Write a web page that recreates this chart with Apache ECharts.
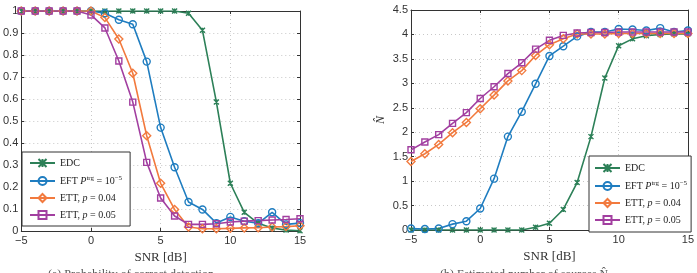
<!DOCTYPE html>
<html>
<head>
<meta charset="utf-8">
<script src="https://cdn.jsdelivr.net/npm/echarts@6/dist/echarts.min.js"></script>
<style>
html, body { margin: 0; padding: 0; background: #fff; }
#chart { width: 697px; height: 273px; }
</style>
</head>
<body>
<div id="chart"></div>
<script>
// SNR 轴
var snr = [-5, -4, -3, -2, -1, 0, 1, 2, 3, 4, 5, 6, 7, 8, 9, 10, 11, 12, 13, 14, 15];

// (a) 检测概率
var pdEDC = [1, 1, 1, 1, 1, 1, 1, 1, 1, 1, 1, 1, 0.99, 0.912, 0.586, 0.217, 0.085, 0.035, 0.014, 0.004, 0.001];
var pdEFT = [1, 1, 1, 1, 1, 1, 0.99, 0.96, 0.94, 0.77, 0.47, 0.29, 0.132, 0.098, 0.036, 0.064, 0.044, 0.035, 0.085, 0.03, 0.036];
var pdETT04 = [1, 1, 1, 1, 1, 1, 0.97, 0.873, 0.717, 0.433, 0.217, 0.098, 0.018, 0.01, 0.01, 0.012, 0.014, 0.015, 0.018, 0.02, 0.024];
var pdETT05 = [1, 1, 1, 1, 1, 0.982, 0.923, 0.773, 0.586, 0.312, 0.15, 0.068, 0.03, 0.03, 0.033, 0.041, 0.045, 0.047, 0.05, 0.052, 0.056];

// (b) 估计的源数
var nEDC = [0, 0, 0, 0, 0, 0, 0, 0, 0, 0.055, 0.137, 0.42, 0.97, 1.91, 3.11, 3.77, 3.91, 3.975, 4.0, 4.01, 4.01];
var nEFT = [0.03, 0.02, 0.03, 0.12, 0.18, 0.44, 1.05, 1.91, 2.42, 2.99, 3.56, 3.76, 3.96, 4.05, 4.05, 4.11, 4.1, 4.08, 4.13, 4.05, 4.08];
var nETT04 = [1.40, 1.56, 1.75, 1.99, 2.2, 2.48, 2.76, 3.05, 3.26, 3.57, 3.79, 3.91, 4.01, 4.01, 4.01, 4.02, 4.02, 4.02, 4.02, 4.02, 4.02];
var nETT05 = [1.64, 1.80, 1.95, 2.18, 2.40, 2.69, 2.93, 3.20, 3.42, 3.70, 3.88, 3.98, 4.03, 4.04, 4.04, 4.05, 4.05, 4.05, 4.05, 4.05, 4.05];

var names = ['EDC', 'EFT', 'ETT04', 'ETT05'];
var colors = ['#2d8058', '#1f7dc0', '#f27a3e', '#a23fa0'];
var symbols = ['path://M0,0L10,10M10,0L0,10M5,0L5,10', 'circle', 'diamond', 'rect'];
var symbolSizes = [5, 7, 8, 6];

var serif = '"Liberation Serif", "DejaVu Serif", serif';
var sans = '"Liberation Sans", Arial, sans-serif';

function pairs(ys) {
    var out = [];
    for (var i = 0; i < snr.length; i++) {
        out.push([snr[i], ys[i]]);
    }
    return out;
}

function makeSeries(idx, ys, axis) {
    return {
        name: names[idx],
        type: 'line',
        xAxisIndex: axis,
        yAxisIndex: axis,
        data: pairs(ys),
        symbol: symbols[idx],
        symbolSize: symbolSizes[idx],
        showAllSymbol: true,
        animation: false,
        lineStyle: { color: colors[idx], width: 1.6 },
        itemStyle: { color: 'rgba(255,255,255,0)', borderColor: colors[idx], borderWidth: 1.4 },
        emphasis: { disabled: true }
    };
}

function legendText(name) {
    if (name == 'EDC') return '{t|EDC}';
    if (name == 'EFT') return '{t|EFT }{i|P}{sup|trg}{t| = 10}{sup|−5}';
    if (name == 'ETT04') return '{t|ETT, }{i|p}{t| = 0.04}';
    return '{t|ETT, }{i|p}{t| = 0.05}';
}

var legendRich = {
    t: { fontFamily: serif, fontSize: 10, color: '#222' },
    i: { fontFamily: serif, fontSize: 10, fontStyle: 'italic', color: '#222' },
    sup: { fontFamily: serif, fontSize: 7, color: '#222', verticalAlign: 'top', padding: [0, 0, 5, 0] }
};

function makeLegend(left, top, pad) {
    return {
        orient: 'vertical',
        left: left,
        top: top,
        data: names,
        itemWidth: 25,
        itemHeight: 10,
        itemGap: 7,
        padding: pad,
        backgroundColor: '#fff',
        borderColor: '#333',
        borderWidth: 1,
        borderRadius: 0,
        selectedMode: false,
        formatter: legendText,
        textStyle: { rich: legendRich }
    };
}

var axisLineStyle = { show: true, onZero: false, lineStyle: { color: '#333' } };
var tickStyle = { inside: true, length: 3, lineStyle: { color: '#333' } };
var gridLine = { show: true, lineStyle: { color: '#c8c8c8', type: [1, 3] } };

function xAx(grid) {
    return {
        type: 'value', gridIndex: grid, min: -5, max: 15, interval: 5,
        name: 'SNR [dB]', nameLocation: 'middle', nameGap: 19,
        nameTextStyle: { fontFamily: serif, fontSize: 13, color: '#333' },
        axisLine: axisLineStyle,
        axisTick: tickStyle,
        axisLabel: { fontFamily: sans, fontSize: 11, color: '#333', margin: 4,
            formatter: function (v) { return String(v).replace('-', '−'); } },
        splitLine: gridLine
    };
}

function xTop(grid) {
    return {
        type: 'value', gridIndex: grid, position: 'top', min: -5, max: 15, interval: 5,
        axisLine: axisLineStyle, axisTick: tickStyle,
        axisLabel: { show: false }, splitLine: { show: false }
    };
}

function yAx(grid, max, interval, name) {
    return {
        type: 'value', gridIndex: grid, min: 0, max: max, interval: interval,
        name: name, nameLocation: 'middle', nameGap: 24, nameRotate: 90,
        nameTextStyle: { fontFamily: serif, fontSize: 12, fontStyle: 'italic', color: '#333' },
        axisLine: axisLineStyle,
        axisTick: tickStyle,
        axisLabel: { fontFamily: sans, fontSize: 11, color: '#333', margin: 3 },
        splitLine: gridLine
    };
}

function yRight(grid, max, interval) {
    return {
        type: 'value', gridIndex: grid, position: 'right', min: 0, max: max, interval: interval,
        axisLine: axisLineStyle, axisTick: tickStyle,
        axisLabel: { show: false }, splitLine: { show: false }
    };
}

var dom = document.getElementById('chart');
var chart = echarts.init(dom, null, { renderer: 'canvas' });

var option = {
    backgroundColor: '#fff',
    animation: false,
    grid: [
        { left: 21, top: 11, width: 279, height: 220 },
        { left: 411, top: 10, width: 279, height: 220 }
    ],
    xAxis: [xAx(0), xAx(1), xTop(0), xTop(1)],
    yAxis: [yAx(0, 1, 0.1, ''), yAx(1, 4.5, 0.5, 'N̂'), yRight(0, 1, 0.1), yRight(1, 4.5, 0.5)],
    legend: [makeLegend(22, 152, [6, 8, 6, 7]), makeLegend(589, 156, [7, 4, 7, 5])],
    series: [
        makeSeries(0, pdEDC, 0),
        makeSeries(1, pdEFT, 0),
        makeSeries(2, pdETT04, 0),
        makeSeries(3, pdETT05, 0),
        makeSeries(0, nEDC, 1),
        makeSeries(1, nEFT, 1),
        makeSeries(2, nETT04, 1),
        makeSeries(3, nETT05, 1)
    ],
    graphic: [
        { type: 'text', left: 48, top: 269, style: { text: '(a) Probability of correct detection', font: '12px ' + serif, fill: '#555' } },
        { type: 'text', left: 440, top: 269, style: { text: '(b) Estimated number of sources N̂', font: '12px ' + serif, fill: '#555' } }
    ]
};

chart.setOption(option);
window.addEventListener('resize', function () {
    chart.resize();
});
</script>
</body>
</html>
